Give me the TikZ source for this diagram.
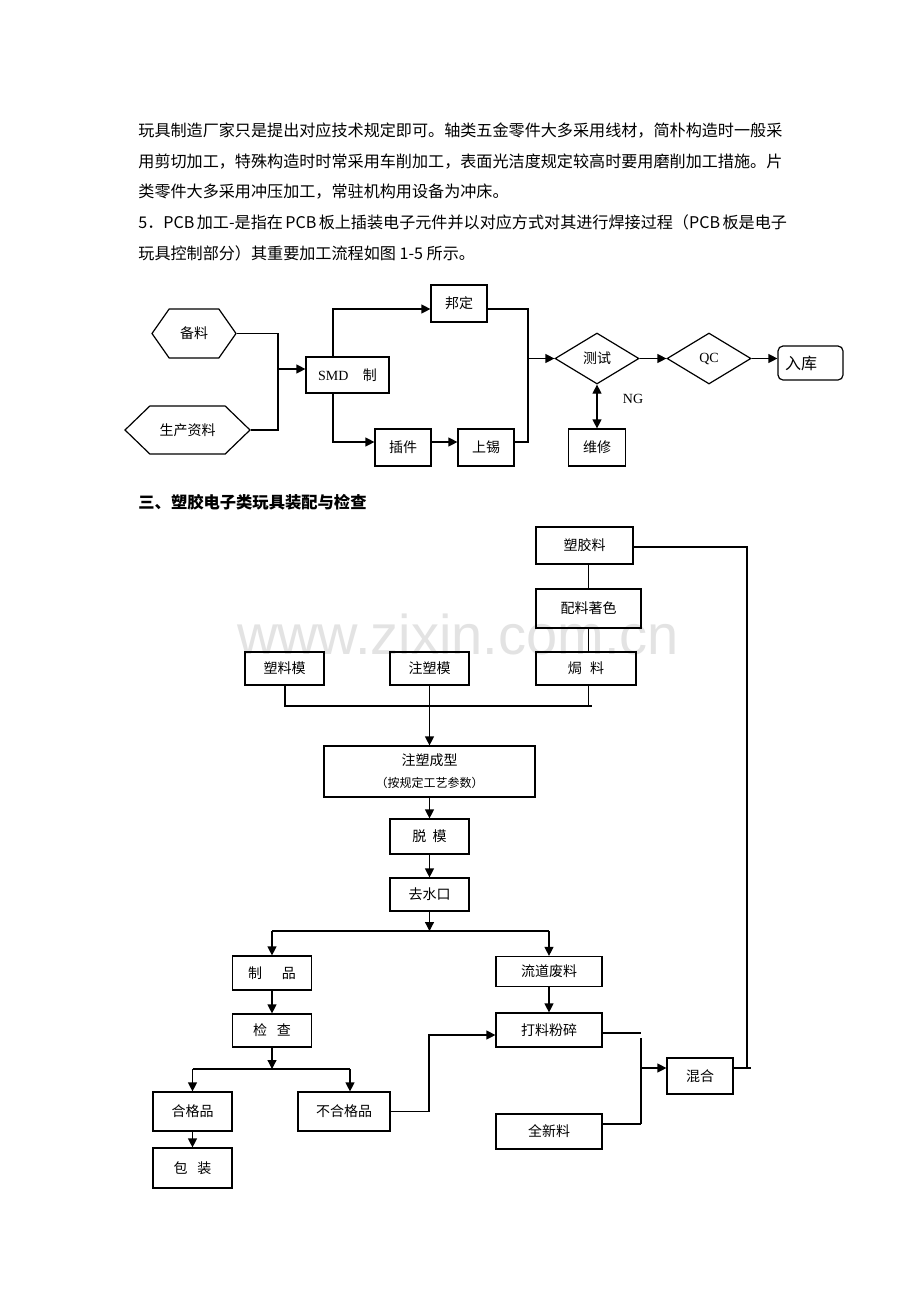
\documentclass[tikz,border=0pt]{standalone}
\usepackage{fontspec}
\setmainfont{Liberation Serif}
\newfontfamily\cjk{Noto Sans CJK SC}
\newfontfamily\wmfont{Liberation Sans}
\usetikzlibrary{arrows.meta,shapes.geometric,shapes.symbols}
\XeTeXlinebreaklocale "zh"
\XeTeXlinebreakskip=0pt plus 1pt

\begin{document}
\begin{tikzpicture}[x=0.5pt,y=-0.5pt,
  box/.style={draw,line width=0.6pt,inner sep=0pt,font={\cjk\fontsize{7pt}{8pt}\selectfont}},
  hexa/.style={box,shape=signal,signal to=west and east},
  dia/.style={box,shape=diamond,minimum width=42pt,minimum height=25.5pt},
  ln/.style={line width=0.6pt},
  arr/.style={ln,-{Triangle[length=4.5pt,width=4.5pt]}},
  txt/.style={anchor=base west,inner sep=0pt,font={\cjk\fontsize{8.05pt}{10pt}\selectfont}}]

\fill[white] (0,0) rectangle (920,1302);
\useasboundingbox (0,0) rectangle (920,1302);

\node[anchor=base,text=black!11,font={\wmfont\fontsize{28pt}{30pt}\selectfont}] (W) at (458,654) {www.zixin.com.cn};

% text
\node[txt] (T1) at (138,136) {\makebox[322pt][s]{玩具制造厂家只是提出对应技术规定即可。轴类五金零件大多采用线材，简朴构造时一般采}};
\node[txt] (T2) at (138,167) {\makebox[322pt][s]{用剪切加工，特殊构造时时常采用车削加工，表面光洁度规定较高时要用磨削加工措施。片}};
\node[txt] (T3) at (138,197) {类零件大多采用冲压加工，常驻机构用设备为冲床。};
\node[txt] (T4) at (138,228) {\makebox[322pt][s]{5．PCB 加工-是指在 PCB 板上插装电子元件并以对应方式对其进行焊接过程（PCB 板是电子}};
\node[txt] (T5) at (138,259) {玩具控制部分）其重要加工流程如图 1-5 所示。};
\node[txt,font={\cjk\bfseries\fontsize{8.15pt}{10pt}\selectfont}] (T6) at (138,508) {三、塑胶电子类玩具装配与检查};

% PCB
\coordinate (J1) at (278,369);
\coordinate (J2) at (333,309);
\coordinate (J3) at (333,442);
\coordinate (J4) at (528,358.5);

\node[hexa,signal pointer angle=110,minimum width=42pt,minimum height=24.5pt] (H1) at (194,333.5) {备料};
\node[hexa,signal pointer angle=88,minimum width=62.5pt,minimum height=24pt] (H2) at (187.5,430) {生产资料};
\node[box,minimum width=41.5pt,minimum height=18pt,font=\fontsize{7pt}{8pt}\selectfont] (R1) at (347.5,375) {SMD\hspace{7.3pt}{\cjk 制}};
\node[box,minimum width=28pt,minimum height=18.5pt] (R2) at (459,303.5) {邦定};
\node[box,minimum width=28pt,minimum height=18.5pt] (R3) at (403,447.5) {插件};
\node[box,minimum width=28pt,minimum height=18.5pt] (R4) at (486,447.5) {上锡};
\node[dia] (D1) at (597,358.5) {测试};
\node[dia,font=\fontsize{7pt}{8pt}\selectfont] (D2) at (709,358.5) {QC};
\node[box,rounded corners=2.5pt,minimum width=32.5pt,minimum height=17pt,font={\cjk\fontsize{8pt}{9pt}\selectfont}] (R5) at (810.5,363) {\makebox[25.5pt][l]{入库}};
\node[box,minimum width=28.5pt,minimum height=18.5pt] (R6) at (597,447.5) {维修};
\node[inner sep=0pt,font=\fontsize{7pt}{8pt}\selectfont] (L1) at (633,399) {NG};

\draw[ln] (H1.east) -| (J1);
\draw[ln] (H2.east) -| (J1);
\draw[arr] (J1) -- (J1 -| R1.west);
\draw[arr] (R1.north -| J2) |- (J2 -| R2.west);
\draw[arr] (R1.south -| J3) |- (J3 -| R3.west);
\draw[arr] (J3 -| R3.east) -- (J3 -| R4.west);
\draw[ln] (J2 -| R2.east) -| (J4);
\draw[ln] (J3 -| R4.east) -| (J4);
\draw[arr] (J4) -- (D1.west);
\draw[arr] (D1.east) -- (D2.west);
\draw[arr] (D2.east) -- (D2.east -| R5.west);
\draw[ln,{Triangle[length=4.5pt,width=4.5pt]}-{Triangle[length=4.5pt,width=4.5pt]}] (D1.south) -- (R6.north);

% assembly
\coordinate (K1) at (285,706);
\coordinate (K2) at (592,706);
\coordinate (K3) at (272,931);
\coordinate (K4) at (549,931);
\coordinate (K5) at (192.5,1069);
\coordinate (K6) at (350,1069);
\coordinate (K7) at (429,1035);
\coordinate (K8) at (641,1033);
\coordinate (K9) at (641,1124);
\coordinate (K10) at (641,1068);
\coordinate (K11) at (747,547);
\coordinate (K12) at (751,1068);

\node[box,minimum width=48.5pt,minimum height=18.5pt] (B1) at (584.5,545.5) {塑胶料};
\node[box,minimum width=52.5pt,minimum height=19.5pt] (B2) at (588.5,608.5) {配料著色};
\node[box,minimum width=50pt,minimum height=16.5pt] (B3) at (586,668.5) {焗\hspace{0.6em}料};
\node[box,minimum width=39.5pt,minimum height=16.5pt] (B4) at (284.5,668.5) {塑料模};
\node[box,minimum width=39.5pt,minimum height=16.5pt] (B5) at (429.5,668.5) {注塑模};
\node[box,minimum width=105.5pt,minimum height=25.5pt,align=center] (B6) at (429.5,771.5) {注塑成型\\[3pt]{\fontsize{6pt}{7pt}\selectfont （按规定工艺参数）}};
\node[box,minimum width=39.5pt,minimum height=17.5pt] (B7) at (429.5,836.5) {脱\hspace{0.45em}模};
\node[box,minimum width=39.5pt,minimum height=16.5pt] (B8) at (429.5,894.5) {去水口};
\node[box,minimum width=39.5pt,minimum height=17pt] (B9) at (272,973) {制\hspace{1.4em}品};
\node[box,minimum width=53pt,minimum height=15pt] (B10) at (549,971.5) {流道废料};
\node[box,minimum width=39.5pt,minimum height=16.5pt] (B11) at (272,1030.5) {检\hspace{0.7em}查};
\node[box,minimum width=39.5pt,minimum height=19.5pt] (B12) at (192.5,1111.5) {合格品};
\node[box,minimum width=46pt,minimum height=19.5pt] (B13) at (344,1111.5) {不合格品};
\node[box,minimum width=39.5pt,minimum height=20pt] (B14) at (192.5,1168) {包\hspace{0.7em}装};
\node[box,minimum width=53pt,minimum height=17pt] (B15) at (549,1030) {打料粉碎};
\node[box,minimum width=53pt,minimum height=17.5pt] (B16) at (549,1131.5) {全新料};
\node[box,minimum width=33pt,minimum height=18pt] (B17) at (700,1076) {混合};

\draw[ln] (B2.north) -- (B2.north |- B1.south);
\draw[ln] (B2.south) -- (B2.south |- B3.north);
\draw[ln] (B4.south -| K1) -- (K1) -- (K2);
\draw[ln] (B2.south |- B3.south) -- (B2.south |- K2);
\draw[arr] (B5.south) -- (B6.north);
\draw[arr] (B6.south) -- (B7.north);
\draw[arr] (B7.south) -- (B8.north);
\draw[arr] (B8.south) -- (B8.south |- K3);
\draw[ln] (K3) -- (K4);
\draw[arr] (K3) -- (B9.north);
\draw[arr] (K4) -- (B10.north);
\draw[arr] (B9.south) -- (B11.north);
\draw[arr] (B11.south) -- (B11.south |- K5);
\draw[ln] (K5) -- (K6);
\draw[arr] (K5) -- (K5 |- B12.north);
\draw[arr] (K6) -- (K6 |- B13.north);
\draw[arr] (B12.south) -- (B14.north);
\draw[arr] (B10.south) -- (B15.north);
\draw[arr] (B13.east) -| (K7) -- (K7 -| B15.west);
\draw[ln] (K8 -| B15.east) -- (K8);
\draw[ln] ([yshift=-2.5pt]K8) -- (K9);
\draw[ln] (K9 -| B16.east) -- (K9);
\draw[arr] (K10) -- (K10 -| B17.west);
\draw[ln] (K11 -| B1.east) -- (K11) -- (K11 |- K12);
\draw[ln] (K12 -| B17.east) -- (K12);

\end{tikzpicture}
\end{document}
